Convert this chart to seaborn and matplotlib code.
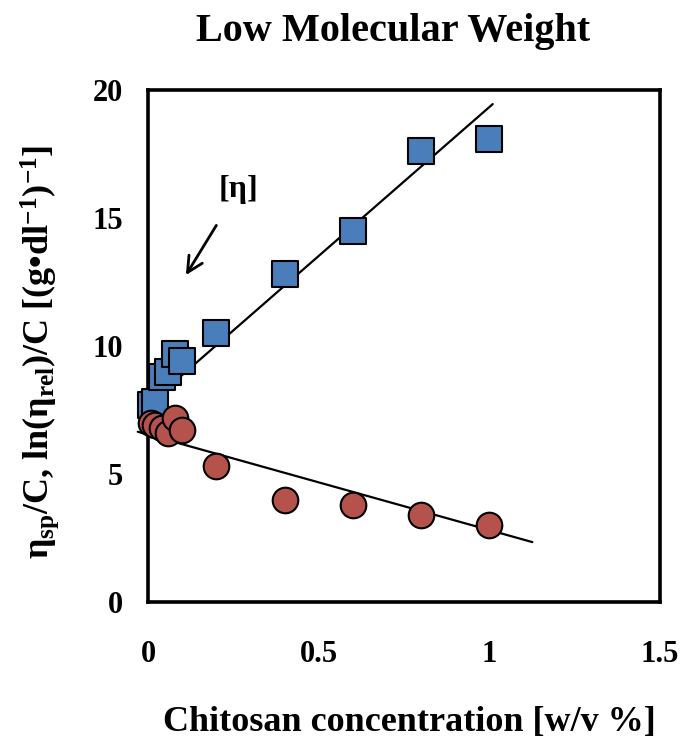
import matplotlib
matplotlib.use("Agg")
import matplotlib.pyplot as plt
import seaborn as sns
import pandas as pd

# ---- data ----
conc = [0.01, 0.02, 0.04, 0.06, 0.08, 0.10, 0.20, 0.40, 0.60, 0.80, 1.00]
eta_sp_c = [7.7, 7.8, 8.8, 9.0, 9.7, 9.4, 10.5, 12.8, 14.5, 17.6, 18.1]
ln_rel_c = [7.0, 6.9, 6.8, 6.6, 7.2, 6.7, 5.3, 4.0, 3.8, 3.4, 3.0]

# trend lines (end points)
trend_sp_x = [0.0, 1.01]
trend_sp_y = [7.7, 19.45]
trend_ln_x = [-0.03, 1.126]
trend_ln_y = [6.65, 2.34]

xticks = [0, 0.5, 1, 1.5]
xticklabels = ["0", "0.5", "1", "1.5"]
yticks = [0, 5, 10, 15, 20]

sns.set_style("white")
plt.rcParams['font.family'] = ['Liberation Serif', 'DejaVu Serif']
plt.rcParams['font.weight'] = 'bold'
plt.rcParams['text.color'] = 'black'
plt.rcParams['axes.labelcolor'] = 'black'
plt.rcParams['xtick.color'] = 'black'
plt.rcParams['ytick.color'] = 'black'
plt.rcParams['mathtext.fontset'] = 'custom'
plt.rcParams['mathtext.rm'] = 'Liberation Serif:bold'
plt.rcParams['mathtext.it'] = 'Liberation Serif:bold'
plt.rcParams['mathtext.bf'] = 'Liberation Serif:bold'

df = pd.DataFrame({"conc": conc, "sp": eta_sp_c, "ln": ln_rel_c})

fig = plt.figure(figsize=(6.8, 7.4), dpi=100)
ax = fig.add_axes([148/680, 1 - 602/740, (660-148)/680, (602-90)/740])

blue = "#4A7EBB"
red = "#B5524B"

sns.lineplot(x=trend_sp_x, y=trend_sp_y, ax=ax, color="black", lw=1.6, zorder=1)
sns.lineplot(x=trend_ln_x, y=trend_ln_y, ax=ax, color="black", lw=1.6, zorder=1)
for l in ax.lines:
    l.set_clip_on(False)

sns.scatterplot(data=df, x="conc", y="sp", ax=ax, marker="s", s=340, color=blue,
                edgecolor="black", linewidth=1.5, zorder=3, clip_on=False)
sns.scatterplot(data=df, x="conc", y="ln", ax=ax, marker="o", s=340, color=red,
                edgecolor="black", linewidth=1.5, zorder=3, clip_on=False)

ax.set_xlim(0, 1.5)
ax.set_ylim(0, 20)
ax.set_xticks(xticks)
ax.set_xticklabels(xticklabels)
ax.set_yticks(yticks)
ax.set_yticklabels([str(v) for v in yticks])
ax.tick_params(axis="x", direction="in", length=7, width=1.5, pad=27, labelsize=22)
ax.tick_params(axis="y", direction="in", length=7, width=1.5, pad=18, labelsize=22)
for sp in ax.spines.values():
    sp.set_linewidth(2.6)
    sp.set_color("black")

fig.text(393/680, 1 - 32/740, "Low Molecular Weight", fontsize=29, fontweight="bold",
         ha="center", va="center")
ax.set_xlabel("Chitosan concentration [w/v %]", fontsize=26, fontweight="bold")
ax.xaxis.set_label_coords((409-148)/512, -(722-602)/512)
ax.xaxis.label.set_va("center")
ax.set_ylabel(r"$\eta_{sp}$/C, ln($\eta_{rel}$)/C [(g•dl$^{-1}$)$^{-1}$]",
              fontsize=26, fontweight="bold")
ax.yaxis.set_label_coords(-(148-40)/512, (602-352)/512)
ax.yaxis.label.set_va("center")

ax.annotate("[η]", xy=(0.111, 12.77), xytext=(0.264, 16.1), fontsize=23,
            fontweight="bold", ha="center", va="center",
            arrowprops=dict(arrowstyle="->", lw=2.0, color="black",
                            shrinkA=15, shrinkB=0, mutation_scale=28))

fig.savefig("out.png", dpi=100)
